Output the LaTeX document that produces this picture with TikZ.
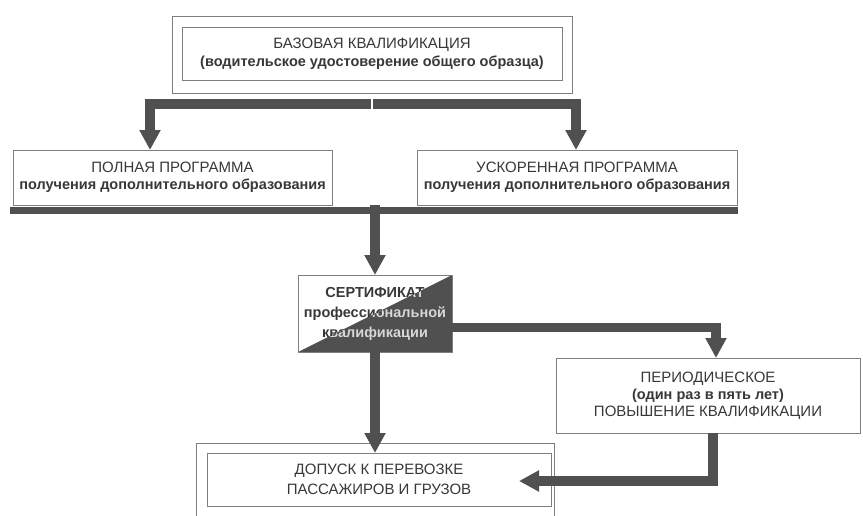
\documentclass[tikz,border=0pt]{standalone}
\usepackage{fontspec}
\setmainfont{Liberation Sans}
\usetikzlibrary{arrows.meta,calc}
\definecolor{boxline}{HTML}{7F7F7F}
\definecolor{connclr}{HTML}{505050}
\definecolor{txt}{HTML}{383838}
% lower-case explanatory lines are set a little heavier
\newcommand\lcline[1]{{\fontsize{14.5}{14.5}\selectfont\bfseries #1}}
\begin{document}
\begin{tikzpicture}[x=1pt,y=-1pt,
  box/.style={draw=boxline, line width=1pt, fill=white, inner sep=0pt, outer sep=0pt,
    text=txt, align=center},
  labelsz/.style={font=\fontsize{15}{#1}\selectfont},
  conn/.style={draw=connclr, line width=9.5pt, line cap=butt, line join=miter,
    -{Triangle[width=20pt,length=20pt]}},
  bar/.style={draw=connclr, line width=7pt, line cap=butt},
  certtext/.style={align=center, font=\fontsize{14.5}{20}\selectfont\bfseries, inner sep=0pt}
]
\useasboundingbox (0,0) rectangle (863,515);

% top: basic qualification, double frame
\node[box, minimum width=400, minimum height=77] (topouter) at (372,54.5) {};
\node[box, minimum width=380, minimum height=53, labelsz=18] (top) at (372,53.5)
  {БАЗОВАЯ КВАЛИФИКАЦИЯ\\\lcline{(водительское удостоверение общего образца)}};

% the two training programmes
\node[box, minimum width=319, minimum height=55, labelsz=17] (poln) at (172.5,177.5)
  {ПОЛНАЯ ПРОГРАММА\\\lcline{получения дополнительного образования}};
\node[box, minimum width=320, minimum height=55, labelsz=17] (usk) at (577,177.5)
  {УСКОРЕННАЯ ПРОГРАММА\\\lcline{получения дополнительного образования}};

% certificate, split diagonally
\node[box, minimum width=154, minimum height=77] (cert) at (375,313.5) {};
\fill[connclr] (cert.south west) -- (cert.north east) -- (cert.south east) -- cycle;
\node[certtext, text=txt] (certlbl) at (cert.center)
  {СЕРТИФИКАТ\\профессиональной\\квалификации};
\begin{scope}
  \clip (cert.south west) -- (cert.north east) -- (cert.south east) -- cycle;
  \node[certtext, text=black!15] at (cert.center)
    {СЕРТИФИКАТ\\профессиональной\\квалификации};
\end{scope}
\draw[boxline, line width=1pt] (cert.south west) rectangle (cert.north east);

% periodic refresher training
\node[box, minimum width=304, minimum height=75, labelsz=17] (per) at (708,395.5)
  {ПЕРИОДИЧЕСКОЕ\\\lcline{(один раз в пять лет)}\\ПОВЫШЕНИЕ КВАЛИФИКАЦИИ};

% admission, inner box inside an open frame
\draw[boxline, line width=1pt] (196,516) -- (196,443) -- (554,443) -- (554,516);
\node[box, minimum width=344, minimum height=53, labelsz=20] (dop) at (379,479.5)
  {ДОПУСК К ПЕРЕВОЗКЕ\\ПАССАЖИРОВ И ГРУЗОВ};

% connectors
\draw[conn] ($(topouter.south)+(-1,11)$) -| ($(poln.north)+(-22.5,0)$);
\draw[conn] ($(topouter.south)+(1,11)$) -| ($(usk.north)+(-1,0)$);
\draw[bar] ($(poln.south west)+(-3,5)$) -- ($(usk.south east)+(1,5)$);
\draw[conn] (cert.north |- poln.south) -- (cert.north);
\draw[conn] ($(cert.east)+(0,14)$) -| ($(per.north)+(8,0)$);
\draw[conn] (cert.south) -- (cert.south |- dop.north);
\draw[conn] ($(per.south)+(5,0)$) |- ($(dop.east)+(-32,1.5)$);
\end{tikzpicture}
\end{document}
